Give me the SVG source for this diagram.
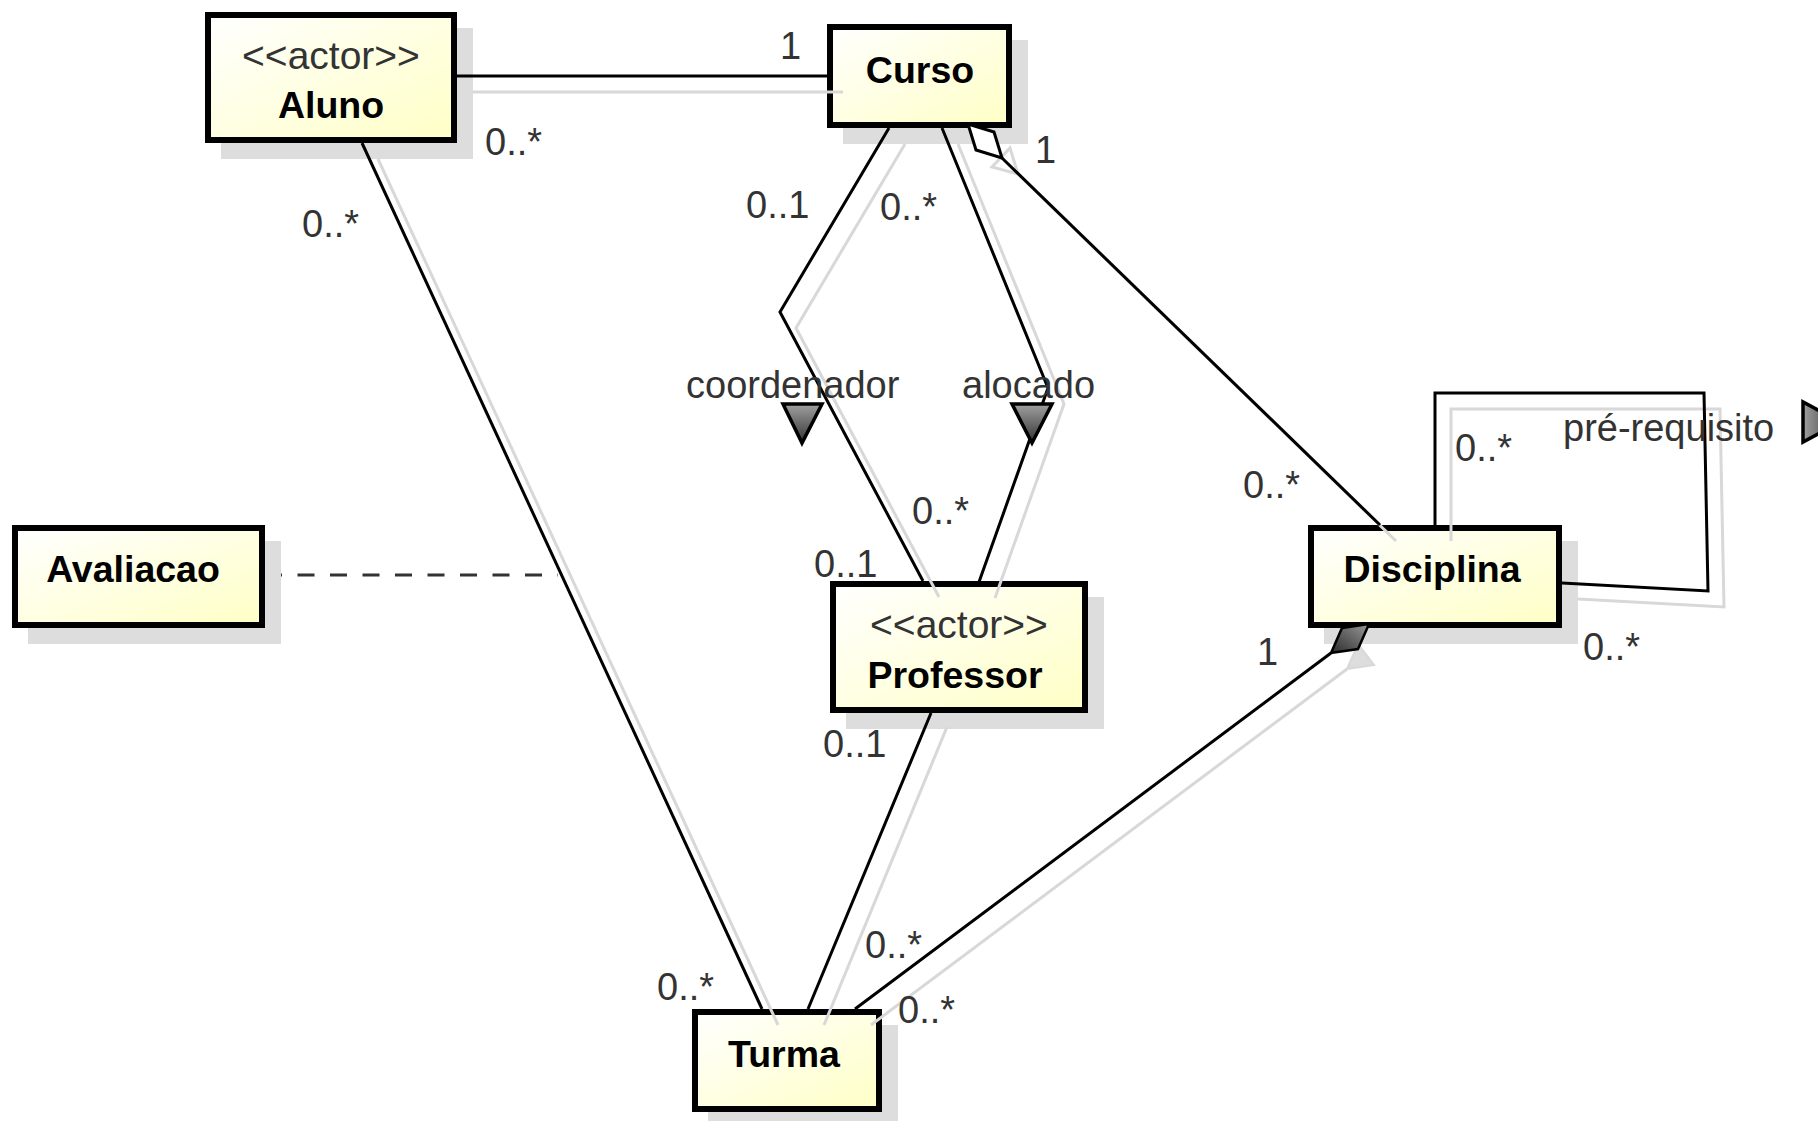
<svg xmlns="http://www.w3.org/2000/svg" width="1818" height="1121" viewBox="0 0 1818 1121">
<defs>
<linearGradient id="boxfill" x1="0" y1="0" x2="1" y2="1">
<stop offset="0" stop-color="#ffffff"/>
<stop offset="1" stop-color="#ffffc6"/>
</linearGradient>
<linearGradient id="trifill" x1="0" y1="0" x2="0" y2="1">
<stop offset="0" stop-color="#a0a0a0"/>
<stop offset="1" stop-color="#333333"/>
</linearGradient>
<linearGradient id="trifillR" x1="0" y1="0" x2="1" y2="0">
<stop offset="0" stop-color="#a0a0a0"/>
<stop offset="1" stop-color="#333333"/>
</linearGradient>
<linearGradient id="compfill" x1="0" y1="1" x2="1" y2="0">
<stop offset="0" stop-color="#2a2a2a"/>
<stop offset="1" stop-color="#9a9a9a"/>
</linearGradient>
<style>
.shadow{fill:#dddddd}
.box{fill:url(#boxfill);stroke:#000;stroke-width:6}
.conn{fill:none;stroke:#000;stroke-width:3;stroke-linejoin:miter}
.cshadow{fill:none;stroke:#d8d8d8;stroke-width:3}
.dash{fill:none;stroke:#333;stroke-width:3;stroke-dasharray:17 15.5}
.tri{fill:url(#trifill);stroke:#000;stroke-width:3.5;stroke-linejoin:miter}
.lbl{font-family:"Liberation Sans",Arial,sans-serif;font-size:38px;fill:#333333}
.stereo{font-family:"Liberation Sans",Arial,sans-serif;font-size:39px;fill:#333333;text-anchor:middle}
.name{font-family:"Liberation Sans",Arial,sans-serif;font-size:37.5px;font-weight:bold;fill:#000;text-anchor:middle}
</style>
</defs>
<rect x="0" y="0" width="1818" height="1121" fill="#ffffff"/>

<g id="avaliacao-link">
<line class="dash" x1="265" y1="575" x2="558" y2="575"/>
</g>

<g id="node-aluno">
<rect class="shadow" x="221" y="28" width="252" height="131"/>
<rect class="box" x="208" y="15" width="246" height="125"/>
<text class="stereo" x="331" y="69">&lt;&lt;actor&gt;&gt;</text>
<text class="name" x="331" y="118">Aluno</text>
</g>
<g id="node-curso">
<rect class="shadow" x="843" y="40" width="185" height="104"/>
<rect class="box" x="830" y="27" width="179" height="98"/>
<text class="name" x="920" y="83">Curso</text>
</g>
<g id="node-disciplina">
<rect class="shadow" x="1324" y="541" width="254" height="103"/>
<rect class="box" x="1311" y="528" width="248" height="97"/>
<text class="name" x="1432" y="582">Disciplina</text>
</g>
<g id="node-professor">
<rect class="shadow" x="846" y="597" width="258" height="132"/>
<rect class="box" x="833" y="584" width="252" height="126"/>
<text class="stereo" x="959" y="638">&lt;&lt;actor&gt;&gt;</text>
<text class="name" x="955" y="688">Professor</text>
</g>
<g id="node-turma">
<rect class="shadow" x="708" y="1025" width="190" height="103"/>
<rect class="box" x="695" y="1012" width="184" height="97"/>
<text class="name" x="784" y="1067">Turma</text>
</g>
<g id="node-avaliacao">
<rect class="shadow" x="28" y="541" width="253" height="103"/>
<rect class="box" x="15" y="528" width="247" height="97"/>
<text class="name" x="133" y="582">Avaliacao</text>
</g>

<g id="connectors">
<g id="connector-shadows">
<polyline class="cshadow" points="473,92 843,92"/>
<polyline class="cshadow" points="378,159 778,1025"/>
<polyline class="cshadow" points="905,144 796,328 939,597"/>
<polyline class="cshadow" points="958,144 1064,404 995,598"/>
<polyline class="cshadow" points="1018,174 1396,541"/>
<polygon class="cshadow" points="1018,174 1010,148 992,167"/>
<polyline class="cshadow" points="871,1025 1347,669"/>
<polygon points="1347,669 1358,644 1374,665" fill="#dddddd" stroke="#d8d8d8" stroke-width="2"/>
<polyline class="cshadow" points="947,727 824,1025"/>
<polyline class="cshadow" points="1451,541 1451,409 1720,409 1724,607 1578,599"/>
</g>
<g id="connector-lines">
<polyline class="conn" points="457,76 827,76"/>
<polyline class="conn" points="362,143 762,1009"/>
<polyline class="conn" points="889,128 780,312 923,581"/>
<polyline class="conn" points="942,128 1048,388 979,582"/>
<polyline class="conn" points="1002,158 1380,525"/>
<polygon class="conn" fill="#ffffff" style="fill:#ffffff" points="1002,158 994,132 968,124 976,150"/>
<polyline class="conn" points="855,1009 1331,653"/>
<polygon points="1331,653 1342,628 1369,624 1358,649" fill="url(#compfill)" stroke="#000" stroke-width="2.5"/>
<polyline class="conn" points="931,713 808,1009"/>
<polyline class="conn" points="1435,525 1435,393 1704,393 1708,591 1562,583"/>
</g>
<g id="direction-markers">
<polygon class="tri" points="783,404 822,404 802,443"/>
<polygon class="tri" points="1012,404 1052,404 1032,443"/>
<polygon class="tri" style="fill:url(#trifillR)" points="1803,402 1803,442 1840,422"/>
</g>
<g id="connector-labels">
<text class="lbl" x="780" y="59">1</text>
<text class="lbl" x="485" y="155">0..*</text>
<text class="lbl" x="302" y="237">0..*</text>
<text class="lbl" x="746" y="218">0..1</text>
<text class="lbl" x="880" y="220">0..*</text>
<text class="lbl" x="1035" y="163">1</text>
<text class="lbl" x="1243" y="498">0..*</text>
<text class="lbl" x="686" y="398">coordenador</text>
<text class="lbl" x="962" y="398">alocado</text>
<text class="lbl" x="912" y="524">0..*</text>
<text class="lbl" x="814" y="577">0..1</text>
<text class="lbl" x="823" y="757">0..1</text>
<text class="lbl" x="657" y="1000">0..*</text>
<text class="lbl" x="865" y="958">0..*</text>
<text class="lbl" x="898" y="1023">0..*</text>
<text class="lbl" x="1257" y="665">1</text>
<text class="lbl" x="1455" y="461">0..*</text>
<text class="lbl" x="1583" y="660">0..*</text>
<text class="lbl" x="1563" y="441">pré-requisito</text>
</g>
</g>
</svg>
